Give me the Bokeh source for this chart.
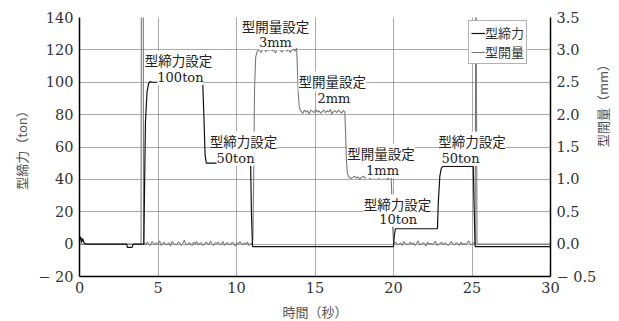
import numpy as np
from bokeh.plotting import figure
from bokeh.models import (Range1d, LinearAxis, FixedTicker, PrintfTickFormatter,
                          Legend, LegendItem, ColumnDataSource)
from bokeh.core.properties import value
from bokeh.embed import file_html
from bokeh.resources import INLINE

# ---------------- data ----------------
# 型締力 (ton), black line
force_t = [0.0, 0.08, 0.12, 0.2, 0.25, 0.32, 0.45, 3.0, 3.05, 3.35, 3.42, 4.1, 4.15, 4.2,
           4.3, 4.4, 4.5, 4.6, 7.85, 7.92, 8.0, 8.08, 10.9, 10.95, 11.02, 20.0, 20.05,
           20.12, 22.8, 22.85, 22.95, 23.05, 23.15, 25.08, 25.13, 25.2, 30.0]
force_v = [2.5, 4.5, 1.0, 3.5, 1.5, 0.5, 0.0, 0.0, -2.0, -2.0, 0.0, 0.0, 40.0, 75.0,
           94.0, 99.0, 100.5, 100.0, 100.0, 80.0, 55.0, 50.0, 50.0, 20.0, -1.5, -1.5, 5.0,
           9.5, 9.5, 25.0, 42.0, 47.0, 48.0, 48.0, 25.0, -1.5, -1.5]

# 型開量 (mm), gray line: levels + hand-read jitter (unit 0.01 mm)
open_t_pre = [0.0, 3.92, 3.94, 4.06, 4.08]
open_v_pre = [0.0, 0.0, 4.0, 4.0, 0.0]
jit_0a = [2, -1, 3, 0, -2, 4, 1, -1, 2, 0, 5, -2, 1, 3, -1, 0, 2, -3, 4, 1, 0, -1, 3, 2,
          -2, 1, 6, 0, -1, 2, 1, -2, 3, 0, 4, -1, 1, 2, -2, 0, 3, 1, -1, 5, 0, -2, 2, 1,
          3, -1, 0, 4, -2, 1, 2, 0, -1, 3, 1, -3, 2, 0, 4, 1, -1, 2, 0, 3, -2, 1, 0]
rise3_t = [11.05, 11.1, 11.15, 11.22, 11.3]
rise3_v = [0.1, 1.2, 2.4, 2.88, 2.97]
jit_3 = [-2, 1, -4, 0, 2, -3, 1, -1, 3, -2, 0, -5, 1, 2, -1, -3, 0, 2, -2, 1, -4, 0, 1,
         -2, 3]
fall2_t = [13.88, 13.94, 14.0, 14.08]
fall2_v = [2.7, 2.3, 2.12, 2.06]
jit_2 = [0, -3, 2, -1, 1, -4, 2, 0, -2, 3, -1, 1, -3, 0, 2, -2, 1, -1, 3, -4, 0, 1, -2,
         2, 0, -3, 1, -1]
fall1_t = [16.95, 17.0, 17.06, 17.14]
fall1_v = [1.7, 1.3, 1.1, 1.04]
jit_1 = [1, -2, 0, 2, -1, 1, -3, 0, 2, -1, 1, 0, -2, 3, -1, 0, 1, -2, 2, 0, -1, 1, -3,
         0, 2]
fall0_t = [19.9, 19.95, 20.0]
fall0_v = [0.7, 0.25, 0.03]
jit_0b = [1, 3, -1, 0, 2, -2, 4, 1, 0, -1, 3, 0, 2, -2, 1, 5, -1, 0, 2, 1, -3, 3, 0, 1,
          -1, 2, 4, -2, 0, 1, 3, -1, 2, 0, -2, 1, 4, 0, -1, 2, 1, -2, 3, 0, 1, -1, 2, 5,
          0, -1, 2, 1]
post_t = [25.24, 25.26, 25.32, 25.34, 30.0]
post_v = [4.0, 4.0, 0.0, 0.0, 0.0]

# axis ticks
x_ticks = [0, 5, 10, 15, 20, 25, 30]
y_ticks = [-20, 0, 20, 40, 60, 80, 100, 120, 140]
mm_ticks = [-0.5, 0.0, 0.5, 1.0, 1.5, 2.0, 2.5, 3.0, 3.5]

# annotations: line1 / line2 text with positions (sec, ton)
ann_top = ["型締力設定", "型締力設定", "型開量設定", "型開量設定", "型開量設定", "型締力設定", "型締力設定"]
ann_bot = ["100ton", "50ton", "3mm", "2mm", "1mm", "10ton", "50ton"]
ann_x1 = [6.31, 10.45, 12.48, 16.1, 19.2, 20.25, 25.0]
ann_y1 = [113.5, 63.4, 134.5, 100.5, 56.0, 24.5, 63.4]
ann_x2 = [6.43, 9.94, 12.48, 16.2, 19.3, 20.3, 24.27]
ann_y2 = [103.0, 52.9, 124.5, 90.0, 45.5, 15.3, 53.0]

# ---------------- build gray series ----------------
def plateau(t0, t1, level, jit):
    tt = list(np.linspace(t0, t1, len(jit)))
    vv = [level + j * 0.01 for j in jit]
    return tt, vv

segs = []
segs.append((open_t_pre, open_v_pre))
segs.append(plateau(4.12, 11.0, 0.0, jit_0a))
segs.append((rise3_t, rise3_v))
segs.append(plateau(11.35, 13.83, 3.0, jit_3))
segs.append((fall2_t, fall2_v))
segs.append(plateau(14.12, 16.9, 2.05, jit_2))
segs.append((fall1_t, fall1_v))
segs.append(plateau(17.18, 19.85, 1.03, jit_1))
segs.append((fall0_t, fall0_v))
segs.append(plateau(20.05, 25.2, 0.0, jit_0b))
segs.append((post_t, post_v))
open_t, open_v = [], []
for a, b in segs:
    open_t += list(a)
    open_v += list(b)

# ---------------- figure ----------------
SERIF = "DejaVu Serif"
JP = "Noto Sans CJK JP"
FW, FH = 471, 259

p = figure(frame_width=FW, frame_height=FH, output_backend="svg", toolbar_location=None,
           x_range=Range1d(0, 30), y_range=Range1d(-20, 140),
           min_border_left=79, min_border_right=5, min_border_top=17, min_border_bottom=10,
           background_fill_color="white", border_fill_color="white")
p.outline_line_color = None
p.extra_y_ranges = {"mm": Range1d(-0.5, 3.5)}

gray_r = p.line(open_t, open_v, y_range_name="mm", line_color="#7a7a7a", line_width=1.1)
black_r = p.line(force_t, force_v, line_color="#111111", line_width=1.2)

# axes
left = p.yaxis[0]
bottom = p.xaxis[0]
bottom.ticker = FixedTicker(ticks=x_ticks)
left.ticker = FixedTicker(ticks=y_ticks)
left.major_label_overrides = {-20: "− 20"}
right = LinearAxis(y_range_name="mm", ticker=FixedTicker(ticks=mm_ticks),
                   formatter=PrintfTickFormatter(format="%.1f"))
right.major_label_overrides = {-0.5: "− 0.5"}
p.add_layout(right, "right")

bottom.axis_label = "時間（秒）"
left.axis_label = "型締力（ton）"

for ax in [bottom, left, right]:
    ax.axis_line_color = "#000000"
    ax.axis_line_width = 1.5
    ax.major_tick_in = 0
    ax.major_tick_out = 0
    ax.minor_tick_in = 0
    ax.minor_tick_out = 0
    ax.major_label_text_font = SERIF
    ax.major_label_text_font_size = "14.5px"
    ax.major_label_text_color = "#333333"
    ax.major_label_standoff = 6
    ax.axis_label_text_font = JP
    ax.axis_label_text_font_size = "13px"
    ax.axis_label_text_font_style = "normal"
    ax.axis_label_text_color = "#555555"
    ax.axis_label_standoff = 4
bottom.major_label_standoff = 5
bottom.axis_label_standoff = 6

# right-side title: a tick-less axis that only carries the label,
# rotated so it reads bottom-to-top like the left one
title_axis = LinearAxis(ticker=FixedTicker(ticks=[]), bounds=(-20, 102),
                        axis_line_color=None, major_tick_in=0, major_tick_out=0,
                        minor_tick_in=0, minor_tick_out=0, major_label_standoff=0,
                        axis_label="型開量（mm）", axis_label_text_font=JP,
                        axis_label_text_font_size="13px", axis_label_text_font_style="normal",
                        axis_label_text_color="#555555", axis_label_standoff=3)
if "axis_label_orientation" in title_axis.properties():
    title_axis.axis_label_orientation = float(np.pi / 2)
p.add_layout(title_axis, "right")

# grid
p.xgrid.ticker = FixedTicker(ticks=x_ticks)
p.ygrid.ticker = FixedTicker(ticks=y_ticks)
for g in [p.xgrid[0], p.ygrid[0]]:
    g.grid_line_color = "#555555"
    g.grid_line_width = 1
    g.grid_line_dash = "1 1"

# annotations
src1 = ColumnDataSource(dict(x=ann_x1, y=ann_y1, t=ann_top))
src2 = ColumnDataSource(dict(x=ann_x2, y=ann_y2, t=ann_bot))
p.text(x="x", y="y", text="t", source=src1, text_font=value(JP), text_font_size="13.5px",
       text_color="#222222", text_align="center", text_baseline="middle",
       background_fill_color="white", padding=0)
p.text(x="x", y="y", text="t", source=src2, text_font=value(SERIF), text_font_size="13px",
       text_color="#222222", text_align="center", text_baseline="middle",
       background_fill_color="white", padding=0)

# legend
legend = Legend(items=[LegendItem(label="型締力", renderers=[black_r]),
                       LegendItem(label="型開量", renderers=[gray_r])],
                location=(389, 212), orientation="vertical")
legend.label_text_font = JP
legend.label_text_font_size = "13px"
legend.label_text_color = "#333333"
legend.glyph_width = 14
legend.glyph_height = 14
legend.label_standoff = 0
legend.label_height = 14
legend.padding = 2
legend.spacing = 0
legend.margin = 0
legend.border_line_color = "#666666"
legend.border_line_width = 1
legend.background_fill_color = "white"
legend.background_fill_alpha = 1
p.add_layout(legend)

open("out.html", "w").write(file_html(p, INLINE))
